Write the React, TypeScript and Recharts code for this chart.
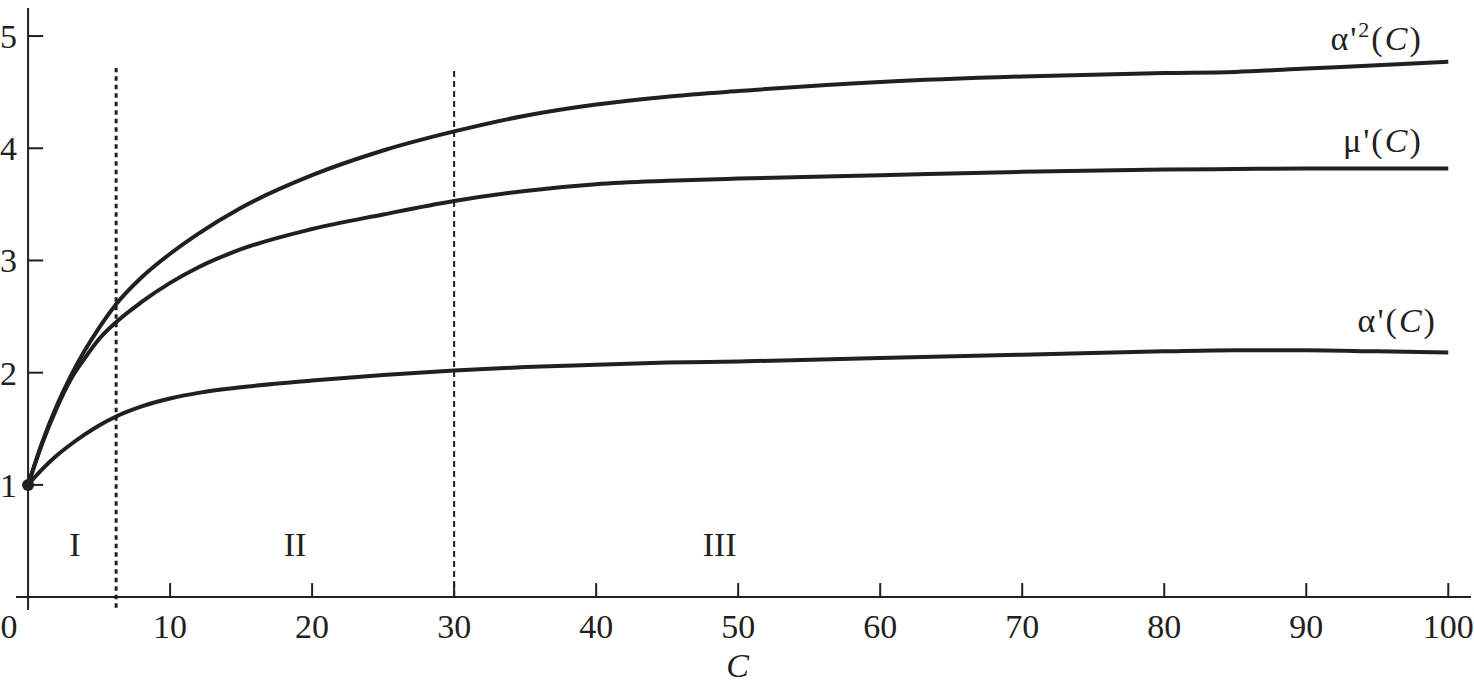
import React from 'react';
import { LineChart, Line, XAxis, YAxis, ReferenceLine, ReferenceDot } from 'recharts';

const cValues = [0, 1, 2, 3, 4, 5, 6.2, 8, 10, 12, 15, 20, 25, 30, 35, 40, 45, 50, 60, 70, 80, 85, 90, 95, 100];
const alpha2 = [1, 1.38, 1.7, 1.97, 2.2, 2.4, 2.61, 2.85, 3.06, 3.24, 3.47, 3.76, 3.98, 4.15, 4.29, 4.39, 4.46, 4.51, 4.59, 4.64, 4.67, 4.68, 4.71, 4.74, 4.77];
const mu = [1, 1.37, 1.68, 1.94, 2.13, 2.3, 2.45, 2.63, 2.8, 2.94, 3.1, 3.28, 3.41, 3.53, 3.62, 3.68, 3.71, 3.73, 3.76, 3.79, 3.81, 3.815, 3.82, 3.82, 3.82];
const alpha = [1, 1.14, 1.26, 1.36, 1.45, 1.53, 1.61, 1.7, 1.77, 1.82, 1.87, 1.93, 1.98, 2.02, 2.05, 2.07, 2.09, 2.1, 2.13, 2.16, 2.19, 2.2, 2.2, 2.19, 2.18];

const xTicks = [0, 10, 20, 30, 40, 50, 60, 70, 80, 90, 100];
const yTicks = [1, 2, 3, 4, 5];
const boundaries = [6.2, 30];
const regions = [
  { name: 'I', c: 3.3 },
  { name: 'II', c: 18.8 },
  { name: 'III', c: 48.7 },
];

const data = cValues.map((c, i) => ({ c, a2: alpha2[i], mu: mu[i], a: alpha[i] }));

const INK = '#231f20';
const FONT = '"Liberation Serif", "DejaVu Serif", serif';

const XTick = (props: any) => {
  const { x, y, payload } = props;
  const v = payload.value;
  return (
    <text x={v === 0 ? x - 19 : x} y={y + 24} textAnchor="middle" fontFamily={FONT} fontSize={34} fill={INK}>
      {v}
    </text>
  );
};

const YTick = (props: any) => {
  const { x, y, payload } = props;
  return (
    <text x={x + 1} y={y + 12} textAnchor="end" fontFamily={FONT} fontSize={34} fill={INK}>
      {payload.value}
    </text>
  );
};

const TextLabel = (props: any) => {
  const { viewBox, text, anchor, kind } = props;
  const x = viewBox.x;
  const y = viewBox.y;
  if (kind === 'a2') {
    return (
      <text x={x} y={y} textAnchor={anchor} fontFamily={FONT} fontSize={34} fill={INK} letterSpacing={2}>
        <tspan>α'</tspan>
        <tspan dy={-13} fontSize={22}>2</tspan>
        <tspan dy={13}>(</tspan>
        <tspan fontStyle="italic">C</tspan>
        <tspan>)</tspan>
      </text>
    );
  }
  if (kind === 'fn') {
    return (
      <text x={x} y={y} textAnchor={anchor} fontFamily={FONT} fontSize={34} fill={INK} letterSpacing={2}>
        <tspan>{text}(</tspan>
        <tspan fontStyle="italic">C</tspan>
        <tspan>)</tspan>
      </text>
    );
  }
  return (
    <text x={x} y={y} textAnchor={anchor} fontFamily={FONT} fontSize={34} fill={INK}>
      {text}
    </text>
  );
};

export default function App() {
  return (
    <div style={{ position: 'absolute', left: 0, top: 0, width: 1474, height: 688, background: '#fff' }}>
      <LineChart width={1474} height={688} data={data} margin={{ top: 8, right: 3, left: 0, bottom: 0 }}>
        <XAxis
          dataKey="c"
          type="number"
          domain={[-0.85, 101.6]}
          allowDataOverflow
          ticks={xTicks}
          height={78}
          tickLine={false}
          axisLine={false}
          tickSize={0}
          tickMargin={4}
          tick={<XTick />}
          interval={0}
          label={{ value: 'C', position: 'insideBottom', offset: 11, dx: -6, fontSize: 34, fontStyle: 'italic', fontFamily: FONT, fill: INK }}
        />
        <YAxis
          type="number"
          domain={[-0.115, 5.25]}
          allowDataOverflow
          ticks={yTicks}
          width={16}
          tickLine={false}
          axisLine={false}
          tickSize={0}
          tickMargin={0}
          tick={<YTick />}
          interval={0}
        />
        <ReferenceLine y={0} stroke={INK} strokeWidth={2} />
        <ReferenceLine segment={[{ x: 0, y: -0.115 }, { x: 0, y: 5.25 }]} stroke={INK} strokeWidth={2} />
        {xTicks.filter((t) => t > 0).map((t) => (
          <ReferenceLine key={'xt' + t} segment={[{ x: t, y: 0 }, { x: t, y: 0.125 }]} stroke={INK} strokeWidth={2} />
        ))}
        {yTicks.map((t) => (
          <ReferenceLine key={'yt' + t} segment={[{ x: 0, y: t }, { x: 1.06, y: t }]} stroke={INK} strokeWidth={2} />
        ))}
        <ReferenceLine
          segment={[{ x: boundaries[0], y: -0.095 }, { x: boundaries[0], y: 4.715 }]}
          stroke={INK}
          strokeWidth={3}
          strokeDasharray="4.5 4"
        />
        <ReferenceLine
          segment={[{ x: boundaries[1], y: 0 }, { x: boundaries[1], y: 4.715 }]}
          stroke={INK}
          strokeWidth={2}
          strokeDasharray="6 4"
        />
        {regions.map((r) => (
          <ReferenceDot key={r.name} x={r.c} y={0.368} r={0} fill="none" stroke="none" label={<TextLabel text={r.name} anchor="middle" />} />
        ))}
        <Line type="monotone" dataKey="a2" stroke={INK} strokeWidth={4} dot={false} isAnimationActive={false} />
        <Line type="monotone" dataKey="mu" stroke={INK} strokeWidth={4} dot={false} isAnimationActive={false} />
        <Line type="monotone" dataKey="a" stroke={INK} strokeWidth={4} dot={false} isAnimationActive={false} />
        <ReferenceDot x={0} y={1} r={6} fill={INK} stroke="none" />
        <ReferenceDot x={98.2} y={4.876} r={0} fill="none" stroke="none" label={<TextLabel kind="a2" anchor="end" />} />
        <ReferenceDot x={98.2} y={3.97} r={0} fill="none" stroke="none" label={<TextLabel kind="fn" text="μ'" anchor="end" />} />
        <ReferenceDot x={99.2} y={2.366} r={0} fill="none" stroke="none" label={<TextLabel kind="fn" text="α'" anchor="end" />} />
      </LineChart>
    </div>
  );
}
